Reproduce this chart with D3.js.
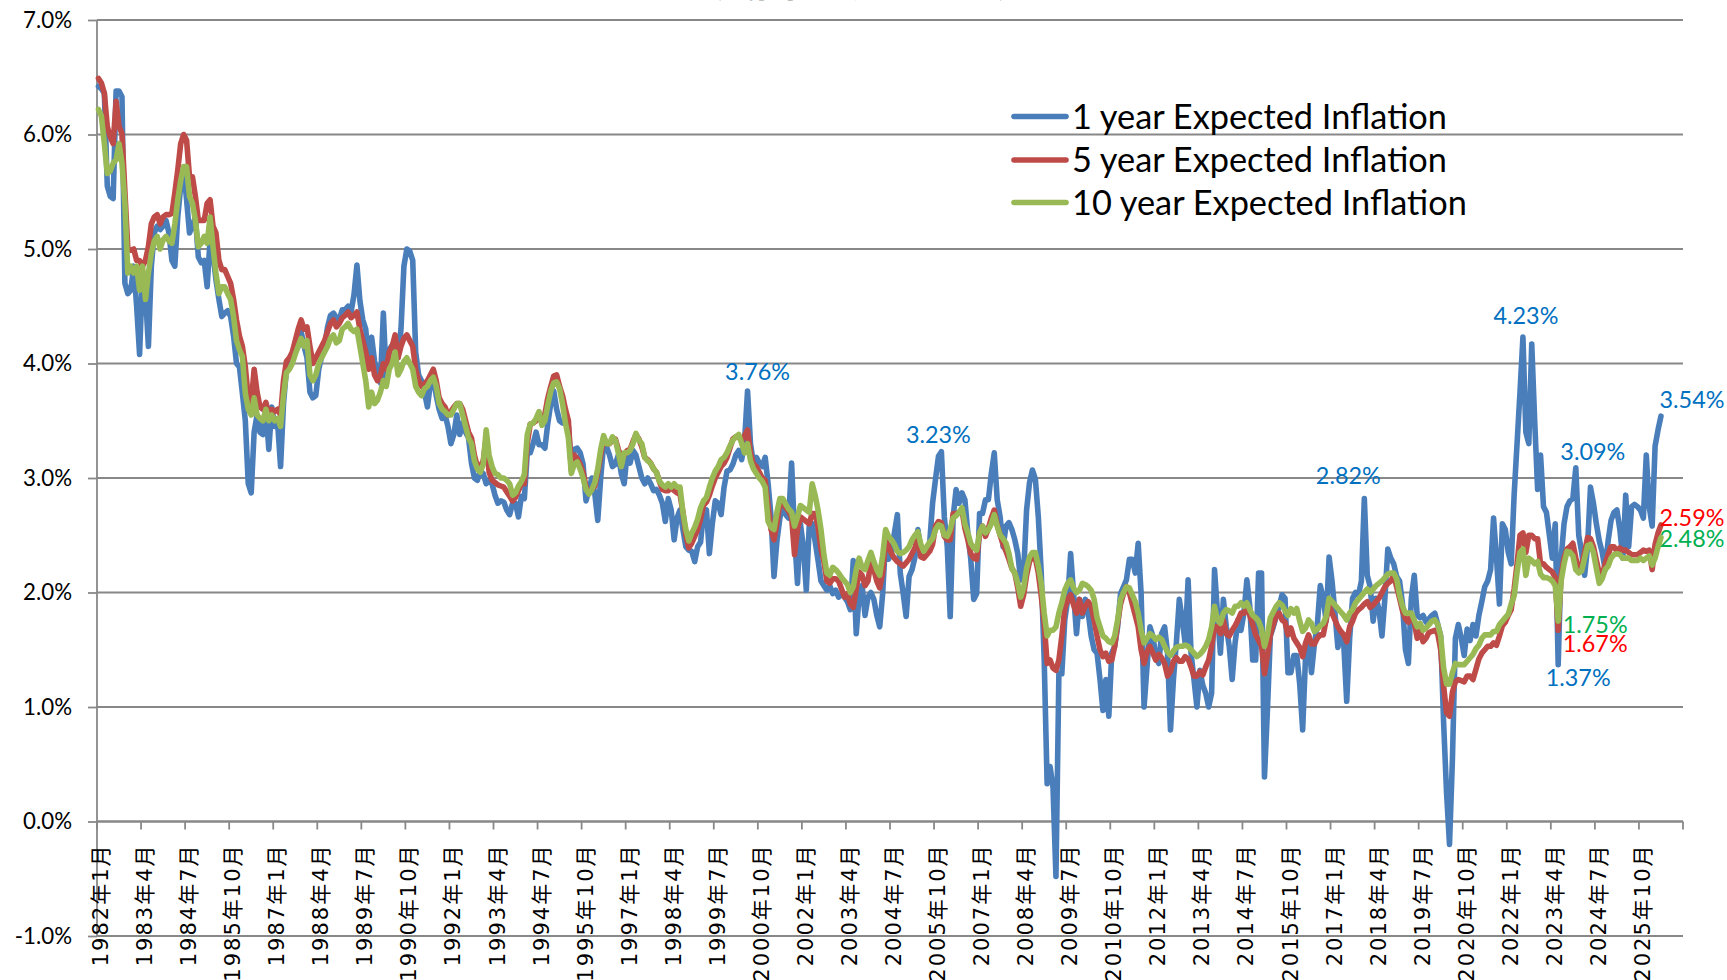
<!DOCTYPE html>
<html><head><meta charset="utf-8">
<script src="https://cdn.jsdelivr.net/npm/d3@7"></script>
<style>
html,body{margin:0;padding:0;background:#fff;overflow:hidden}
svg{display:block}
</style></head>
<body><svg id="chart" width="1727" height="980"></svg>
<script>
// ---------------- DATA (monthly, 1982-01 onward, %) ----------------
const expected1y = [
6.42,6.40,6.36,5.55,5.46,5.44,6.38,6.38,6.33,4.70,4.61,4.64,
4.85,4.50,4.08,4.79,4.61,4.15,4.85,5.14,5.20,5.17,5.20,5.25,
5.14,4.90,4.85,5.28,5.55,5.69,5.43,5.14,5.20,5.28,4.93,4.88,
4.90,4.67,5.08,4.96,4.73,4.56,4.41,4.44,4.46,4.41,4.24,4.00,
3.97,3.74,3.50,2.95,2.87,3.40,3.55,3.40,3.38,3.60,3.25,3.62,
3.45,3.48,3.10,3.65,3.95,4.00,4.06,4.10,4.15,4.28,4.15,4.05,
3.75,3.70,3.72,3.95,4.06,4.15,4.32,4.42,4.44,4.40,4.38,4.47,
4.47,4.50,4.45,4.60,4.86,4.55,4.38,4.30,4.00,4.23,4.02,3.92,
3.83,4.44,3.86,4.12,4.16,4.15,4.05,4.30,4.85,5.00,4.98,4.90,
4.10,3.90,3.85,3.75,3.62,3.82,3.88,3.72,3.60,3.52,3.55,3.45,
3.30,3.38,3.55,3.38,3.48,3.40,3.35,3.13,3.00,2.98,3.06,3.04,
2.95,2.98,2.95,2.85,2.78,2.80,2.79,2.72,2.68,2.78,2.78,2.66,
2.84,2.82,3.22,3.22,3.30,3.40,3.29,3.29,3.26,3.48,3.65,3.76,
3.60,3.50,3.48,3.48,3.45,3.10,3.25,3.26,3.22,3.12,2.80,2.90,
3.00,2.86,2.63,3.00,3.30,3.27,3.20,3.10,3.12,3.20,3.04,2.95,
3.22,3.13,3.24,3.20,3.10,3.00,2.95,3.00,2.95,2.89,2.90,2.85,
2.78,2.62,2.82,2.72,2.46,2.65,2.72,2.55,2.40,2.37,2.36,2.27,
2.40,2.44,2.70,2.72,2.34,2.60,2.80,2.78,2.68,2.92,3.06,3.07,
3.12,3.20,3.24,3.16,3.33,3.76,3.30,3.13,3.18,3.13,3.10,3.18,
2.95,2.66,2.14,2.45,2.65,2.78,2.68,2.65,3.13,2.50,2.08,2.60,
2.40,2.02,2.58,2.60,2.45,2.28,2.10,2.06,2.02,2.06,1.99,2.02,
1.96,1.99,1.96,1.92,1.85,2.28,1.64,1.98,2.06,1.80,1.96,2.00,
1.94,1.80,1.70,1.99,2.46,2.29,2.34,2.52,2.68,2.17,1.99,1.79,
2.14,2.20,2.31,2.55,2.37,2.31,2.34,2.43,2.78,2.99,3.19,3.23,
2.66,2.40,1.79,2.66,2.90,2.78,2.87,2.81,2.52,2.29,1.94,1.99,
2.69,2.69,2.81,2.81,3.04,3.22,2.81,2.66,2.40,2.58,2.61,2.55,
2.46,2.34,2.11,2.17,2.72,2.96,3.07,2.99,2.66,2.17,1.41,0.33,
0.48,0.30,-0.48,1.29,1.29,1.76,1.94,2.34,1.99,1.64,1.94,1.79,
1.94,1.82,1.62,1.50,1.47,1.24,0.97,1.24,0.92,1.47,1.53,1.70,
1.99,2.05,2.11,2.29,2.29,2.17,2.43,1.99,1.00,1.35,1.70,1.62,
1.44,1.38,1.64,1.70,1.47,0.80,1.24,1.56,1.94,1.76,1.56,2.11,
1.47,1.24,1.00,1.32,1.19,1.12,1.00,1.12,2.20,1.82,1.47,1.94,
1.70,1.53,1.24,1.56,1.76,1.67,1.82,2.11,1.88,1.41,1.41,2.17,
2.17,0.39,0.97,1.62,1.70,1.79,1.88,1.98,1.95,1.30,1.30,1.45,
1.45,1.20,0.80,1.45,1.62,1.30,1.55,1.72,2.06,1.95,1.75,2.31,
2.10,1.82,1.52,1.65,1.55,1.05,1.60,1.95,2.00,1.98,2.10,2.82,
2.15,2.05,1.75,1.95,1.85,1.62,1.95,2.38,2.30,2.25,2.14,2.10,
1.90,1.50,1.38,1.95,2.15,1.80,1.78,1.80,1.74,1.77,1.80,1.82,
1.72,1.62,0.86,0.25,-0.20,0.55,1.60,1.72,1.60,1.45,1.68,1.58,
1.72,1.62,1.80,1.92,2.05,2.10,2.20,2.65,2.30,1.90,2.60,2.55,
2.35,2.25,2.85,3.30,3.75,4.23,3.40,3.30,4.17,3.50,2.90,3.20,
2.75,2.70,2.50,2.30,2.60,1.37,2.30,2.60,2.75,2.80,2.82,3.09,
2.50,2.35,2.15,2.40,2.92,2.78,2.60,2.45,2.35,2.20,2.45,2.63,
2.70,2.72,2.55,2.30,2.85,2.40,2.75,2.77,2.75,2.72,2.65,3.20,
2.75,2.58,3.28,3.42,3.54
];
const expected5y = [
6.49,6.45,6.36,6.07,5.98,5.92,6.29,6.07,6.01,5.50,5.00,4.99,
5.00,4.90,4.90,4.85,4.90,5.02,5.22,5.28,5.30,5.22,5.28,5.30,
5.30,5.31,5.49,5.69,5.92,6.00,5.95,5.63,5.63,5.46,5.25,5.25,
5.25,5.40,5.43,5.20,5.14,4.90,4.82,4.82,4.76,4.70,4.56,4.38,
4.24,4.15,3.97,3.70,3.65,3.95,3.75,3.62,3.60,3.66,3.55,3.60,
3.58,3.60,3.55,3.85,4.02,4.05,4.10,4.20,4.30,4.38,4.30,4.32,
4.15,4.00,4.05,4.10,4.15,4.20,4.28,4.35,4.38,4.32,4.35,4.40,
4.42,4.45,4.40,4.42,4.45,4.30,4.20,4.10,3.95,4.05,3.90,3.85,
3.90,4.00,3.95,4.10,4.15,4.25,4.05,4.15,4.22,4.25,4.20,4.15,
3.95,3.85,3.80,3.82,3.85,3.90,3.95,3.85,3.70,3.65,3.62,3.55,
3.58,3.62,3.65,3.65,3.60,3.50,3.40,3.35,3.20,3.10,3.10,3.15,
3.35,3.05,2.98,2.96,2.94,2.93,2.92,2.88,2.84,2.80,2.83,2.89,
2.95,2.95,3.30,3.47,3.48,3.50,3.56,3.48,3.56,3.70,3.80,3.89,
3.90,3.80,3.72,3.60,3.50,3.07,3.20,3.17,3.12,3.05,2.92,2.88,
2.90,2.93,3.05,3.20,3.35,3.30,3.30,3.33,3.34,3.25,3.18,3.20,
3.24,3.25,3.32,3.38,3.34,3.27,3.18,3.16,3.13,3.08,3.05,2.97,
2.90,2.89,2.89,2.92,2.89,2.87,2.86,2.70,2.50,2.39,2.43,2.49,
2.55,2.64,2.76,2.79,2.85,2.93,3.00,3.05,3.10,3.13,3.18,3.26,
3.34,3.36,3.36,3.32,3.37,3.42,3.22,3.12,3.10,3.05,3.00,2.98,
2.75,2.55,2.46,2.60,2.78,2.78,2.74,2.71,2.66,2.33,2.55,2.66,
2.64,2.62,2.60,2.69,2.69,2.57,2.38,2.27,2.10,2.08,2.12,2.12,
2.10,2.03,1.96,1.99,1.90,1.87,2.03,2.18,2.15,2.06,2.10,2.27,
2.20,2.10,2.04,2.17,2.46,2.40,2.34,2.30,2.27,2.25,2.23,2.26,
2.29,2.34,2.39,2.48,2.31,2.30,2.33,2.36,2.42,2.58,2.62,2.61,
2.49,2.46,2.46,2.69,2.69,2.70,2.72,2.56,2.46,2.34,2.30,2.29,
2.52,2.58,2.49,2.56,2.65,2.72,2.59,2.50,2.42,2.36,2.29,2.21,
2.17,2.04,1.88,1.98,2.15,2.27,2.31,2.30,2.17,1.97,1.73,1.38,
1.41,1.34,1.32,1.41,1.62,1.86,1.94,1.98,1.89,1.82,1.94,1.82,
1.88,1.92,1.88,1.76,1.62,1.50,1.44,1.47,1.40,1.41,1.53,1.73,
1.90,1.99,2.05,2.00,1.90,1.80,1.70,1.50,1.38,1.48,1.53,1.47,
1.41,1.46,1.43,1.38,1.27,1.31,1.40,1.43,1.40,1.40,1.44,1.42,
1.35,1.27,1.27,1.31,1.28,1.35,1.41,1.53,1.70,1.70,1.64,1.76,
1.64,1.62,1.67,1.71,1.76,1.82,1.82,1.87,1.80,1.72,1.63,1.58,
1.53,1.29,1.45,1.63,1.72,1.80,1.82,1.76,1.74,1.63,1.69,1.60,
1.56,1.52,1.44,1.56,1.63,1.55,1.55,1.60,1.63,1.63,1.76,1.89,
1.82,1.76,1.70,1.66,1.63,1.57,1.70,1.75,1.82,1.85,1.87,1.90,
1.92,1.87,1.89,1.92,1.95,2.00,2.05,2.08,2.10,2.15,2.05,1.95,
1.84,1.77,1.74,1.80,1.74,1.60,1.66,1.57,1.60,1.65,1.66,1.67,
1.64,1.50,1.18,0.95,0.92,1.13,1.22,1.24,1.23,1.22,1.27,1.27,
1.24,1.33,1.42,1.47,1.50,1.53,1.53,1.56,1.54,1.62,1.71,1.74,
1.80,1.85,2.03,2.25,2.50,2.52,2.35,2.50,2.50,2.47,2.47,2.25,
2.25,2.22,2.20,2.18,2.13,1.67,2.15,2.30,2.38,2.40,2.43,2.30,
2.21,2.23,2.35,2.48,2.47,2.40,2.28,2.17,2.15,2.25,2.33,2.40,
2.40,2.36,2.39,2.37,2.37,2.35,2.33,2.33,2.33,2.35,2.37,2.36,
2.37,2.20,2.42,2.52,2.59
];
const expected10y = [
6.22,6.16,5.92,5.66,5.68,5.75,5.78,5.92,5.75,5.40,4.79,4.85,
4.79,4.85,4.64,4.85,4.56,4.79,4.96,5.07,5.11,5.00,5.08,5.11,
5.07,5.05,5.22,5.43,5.60,5.72,5.72,5.46,5.40,5.25,5.02,5.05,
5.11,5.05,5.28,5.02,4.79,4.61,4.67,4.67,4.61,4.56,4.41,4.20,
4.12,4.06,3.74,3.60,3.55,3.70,3.55,3.52,3.50,3.60,3.50,3.55,
3.50,3.52,3.45,3.72,3.92,3.95,4.00,4.08,4.15,4.22,4.15,4.20,
3.90,3.85,3.90,4.00,4.05,4.10,4.15,4.22,4.25,4.18,4.20,4.30,
4.32,4.35,4.30,4.28,4.30,4.15,4.00,3.85,3.62,3.75,3.65,3.68,
3.75,3.85,3.80,3.95,4.00,4.10,3.90,3.95,4.02,4.05,4.00,3.95,
3.80,3.75,3.72,3.78,3.80,3.85,3.88,3.80,3.65,3.60,3.58,3.55,
3.55,3.60,3.65,3.65,3.55,3.45,3.35,3.30,3.15,3.08,3.05,3.12,
3.42,3.20,3.10,3.04,3.03,3.00,3.00,2.98,2.95,2.85,2.87,2.93,
2.97,3.03,3.38,3.47,3.48,3.52,3.58,3.46,3.50,3.64,3.76,3.83,
3.84,3.78,3.65,3.48,3.35,3.04,3.12,3.14,3.08,3.00,2.90,2.86,
2.90,2.96,3.08,3.25,3.37,3.30,3.30,3.36,3.33,3.22,3.10,3.22,
3.22,3.24,3.30,3.39,3.33,3.30,3.18,3.15,3.13,3.08,3.05,2.97,
2.94,2.92,2.95,2.92,2.95,2.92,2.92,2.70,2.55,2.45,2.52,2.57,
2.64,2.74,2.80,2.83,2.92,3.00,3.06,3.10,3.16,3.18,3.22,3.28,
3.33,3.36,3.38,3.30,3.22,3.30,3.15,3.08,3.04,3.00,2.97,2.92,
2.62,2.57,2.55,2.70,2.82,2.82,2.77,2.73,2.70,2.58,2.66,2.76,
2.74,2.72,2.70,2.95,2.85,2.72,2.55,2.33,2.17,2.15,2.22,2.20,
2.17,2.13,2.10,2.07,2.00,2.05,2.20,2.30,2.22,2.20,2.28,2.35,
2.27,2.20,2.15,2.32,2.55,2.49,2.46,2.42,2.36,2.34,2.35,2.37,
2.40,2.46,2.50,2.53,2.42,2.36,2.40,2.44,2.47,2.55,2.59,2.58,
2.50,2.49,2.55,2.65,2.67,2.70,2.74,2.60,2.52,2.43,2.39,2.37,
2.52,2.58,2.52,2.55,2.60,2.68,2.58,2.50,2.47,2.43,2.34,2.21,
2.17,2.08,1.96,2.04,2.21,2.31,2.35,2.35,2.23,2.08,1.82,1.62,
1.67,1.67,1.70,1.82,1.91,2.02,2.08,2.11,2.04,2.00,2.02,2.08,
2.07,2.05,2.02,1.94,1.78,1.70,1.62,1.60,1.57,1.56,1.62,1.76,
1.94,2.00,2.05,2.04,1.98,1.92,1.82,1.67,1.56,1.60,1.64,1.62,
1.59,1.61,1.59,1.53,1.48,1.45,1.49,1.52,1.53,1.53,1.54,1.53,
1.50,1.47,1.44,1.46,1.49,1.53,1.59,1.70,1.88,1.76,1.73,1.82,
1.85,1.84,1.82,1.88,1.88,1.91,1.88,1.91,1.85,1.80,1.78,1.75,
1.68,1.53,1.63,1.78,1.83,1.88,1.91,1.89,1.84,1.80,1.86,1.82,
1.86,1.75,1.66,1.69,1.76,1.73,1.66,1.68,1.71,1.73,1.79,1.95,
1.92,1.89,1.86,1.83,1.80,1.76,1.82,1.85,1.91,1.94,1.97,2.00,
2.03,2.00,2.03,2.06,2.08,2.10,2.13,2.16,2.17,2.17,2.12,1.98,
1.88,1.82,1.82,1.82,1.76,1.70,1.73,1.67,1.69,1.72,1.75,1.76,
1.72,1.62,1.34,1.20,1.20,1.30,1.38,1.37,1.37,1.37,1.40,1.43,
1.46,1.51,1.54,1.60,1.63,1.63,1.63,1.66,1.66,1.72,1.75,1.78,
1.81,1.90,1.97,2.18,2.35,2.38,2.15,2.30,2.28,2.25,2.27,2.16,
2.13,2.13,2.12,2.10,2.06,1.75,2.10,2.25,2.36,2.35,2.32,2.20,
2.17,2.19,2.30,2.41,2.42,2.35,2.21,2.08,2.12,2.20,2.23,2.30,
2.33,2.34,2.33,2.30,2.30,2.30,2.28,2.28,2.28,2.30,2.28,2.30,
2.32,2.24,2.30,2.40,2.48
];
const seriesNames = ["1 year Expected Inflation", "5 year Expected Inflation", "10 year Expected Inflation"];
const seriesColors = ["#4A7EBB", "#BE4B48", "#98B954"];
const tickLabels = ["1982年1月","1983年4月","1984年7月","1985年10月","1987年1月","1988年4月","1989年7月","1990年10月",
"1992年1月","1993年4月","1994年7月","1995年10月","1997年1月","1998年4月","1999年7月","2000年10月",
"2002年1月","2003年4月","2004年7月","2005年10月","2007年1月","2008年4月","2009年7月","2010年10月",
"2012年1月","2013年4月","2014年7月","2015年10月","2017年1月","2018年4月","2019年7月","2020年10月",
"2022年1月","2023年4月","2024年7月","2025年10月"];
const yTicks = [-1, 0, 1, 2, 3, 4, 5, 6, 7];
const titleText = "美国通胀预期走势";
// annotated points: [series index, month index, label colour, dx, dy]
const annotations = [
  [0, 221, "#0070C0", 10, -19],
  [0, 287, "#0070C0", -3, -17],
  [0, 431, "#0070C0", -16, -23],
  [0, 485, "#0070C0", 3, -22],
  [0, 503, "#0070C0", 17, -16],
  [0, 532, "#0070C0", 31, -17],
  [0, 497, "#0070C0", 20, 13],
  [2, 497, "#00B050", 37, 3],
  [1, 497, "#FF0000", 37, 13],
  [1, 532, "#FF0000", 31, -7],
  [2, 532, "#00B050", 31, 1]
];

// ---------------- CHART ----------------
const categories = [];
for (let yr = 1982; yr <= 2026; yr++) for (let m = 1; m <= 12; m++) categories.push(yr + "年" + m + "月");
const series = [expected1y, expected5y, expected10y];

const svg = d3.select("#chart");
const W = 1727, H = 980;
const plot = {left: 97, right: 1683, top: 20, bottom: 936};
const latin = "Lato, 'Open Sans', sans-serif";
const gridColor = "#888888";

const x = d3.scaleBand().domain(categories).range([plot.left, plot.right]).paddingInner(0).paddingOuter(0);
const bw = x.bandwidth();
const y = d3.scaleLinear().domain([-1, 7]).range([plot.bottom, plot.top]);
const cx = i => x(categories[i]) + bw / 2;

function fitSize(family, base, sample, target, weight) {
  const t = svg.append("text").attr("font-family", family).attr("font-size", base)
    .attr("font-weight", weight || "normal").text(sample);
  const w = t.node().getComputedTextLength();
  t.remove();
  return w > 0 ? base * target / w : base;
}

svg.append("rect").attr("width", W).attr("height", H).attr("fill", "#fff");

// title (mostly outside the top edge, as in the reference)
svg.append("text").attr("x", 876).attr("y", -4).attr("text-anchor", "middle")
  .attr("font-family", "'Noto Sans CJK SC', sans-serif").attr("font-weight", "bold")
  .attr("font-size", 40).attr("fill", "#000").text(titleText);

// gridlines
svg.append("g").selectAll("line").data(yTicks).join("line")
  .attr("x1", plot.left).attr("x2", plot.right)
  .attr("y1", d => y(d)).attr("y2", d => y(d))
  .attr("stroke", gridColor).attr("stroke-width", 1.8);

// y axis
const tickFont = fitSize(latin, 22, "7.0%", 49, "normal");
const yAxis = d3.axisLeft(y).tickValues(yTicks).tickFormat(d => d.toFixed(1) + "%").tickSize(9).tickPadding(16);
const gy = svg.append("g").attr("transform", `translate(${plot.left},0)`).call(yAxis);
gy.select(".domain").attr("stroke", gridColor).attr("stroke-width", 1.8).attr("d", `M-0,${plot.top}V${plot.bottom}`);
gy.selectAll(".tick line").attr("stroke", gridColor).attr("stroke-width", 1.8);
gy.selectAll(".tick text").attr("font-family", latin).attr("font-size", tickFont).attr("fill", "#000");

// x axis at 0%
const y0 = y(0);
svg.append("line").attr("x1", plot.left).attr("x2", plot.right).attr("y1", y0).attr("y2", y0)
  .attr("stroke", gridColor).attr("stroke-width", 1.8);
const tickPos = tickLabels.map(l => x(l)).concat([plot.right]);
svg.append("g").selectAll("line").data(tickPos).join("line")
  .attr("x1", d => d).attr("x2", d => d).attr("y1", y0).attr("y2", y0 + 8)
  .attr("stroke", gridColor).attr("stroke-width", 1.8);
svg.append("g").selectAll("text").data(tickLabels).join("text")
  .attr("transform", d => `translate(${x(d) + bw / 2 + 2},${y0 + 22}) rotate(-90)`)
  .attr("text-anchor", "end").attr("dy", "0.36em")
  .attr("font-family", "'DejaVu Sans', 'Noto Sans CJK JP', sans-serif")
  .attr("font-size", 21).attr("letter-spacing", 2).attr("fill", "#000")
  .text(d => d);

// lines
const line = d3.line().defined(v => v != null).x((v, i) => cx(i)).y(v => y(v));
series.forEach((s, k) => {
  svg.append("path").datum(s).attr("d", line).attr("fill", "none")
    .attr("stroke", seriesColors[k]).attr("stroke-width", 5.6)
    .attr("stroke-linejoin", "round").attr("stroke-linecap", "round");
});

// annotations
const annFont = fitSize(latin, 24, "3.54%", 65, "normal");
svg.append("g").selectAll("text").data(annotations).join("text")
  .attr("x", d => cx(d[1]) + d[3]).attr("y", d => y(series[d[0]][d[1]]) + d[4])
  .attr("text-anchor", "middle").attr("dy", "0.36em")
  .attr("font-family", latin).attr("font-size", annFont).attr("fill", d => d[2])
  .text(d => series[d[0]][d[1]].toFixed(2) + "%");

// legend
const legFont = fitSize(latin, 34, seriesNames[2], 395, "normal");
const legRows = [116.5, 160, 202.5];
const lg = svg.append("g");
seriesNames.forEach((n, k) => {
  lg.append("line").attr("x1", 1014).attr("x2", 1066).attr("y1", legRows[k]).attr("y2", legRows[k])
    .attr("stroke", seriesColors[k]).attr("stroke-width", 5.6).attr("stroke-linecap", "round");
  lg.append("text").attr("x", 1072).attr("y", legRows[k]).attr("dy", "0.36em")
    .attr("font-family", latin).attr("font-size", legFont).attr("fill", "#000").text(n);
});
</script>
</body></html>
